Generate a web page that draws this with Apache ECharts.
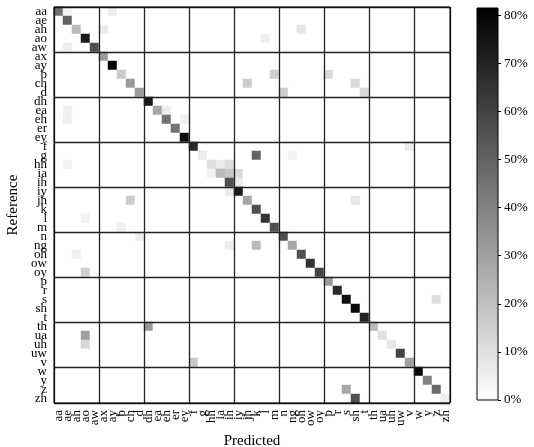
<!DOCTYPE html>
<html>
<head>
<meta charset="utf-8">
<script src="https://cdn.jsdelivr.net/npm/echarts@6/dist/echarts.min.js"></script>
<style>
  html, body { margin: 0; padding: 0; background: #fff; }
  #chart { width: 534px; height: 447px; }
</style>
</head>
<body>
<div id="chart"></div>
<script>
// phoneme labels, same order on both axes
var phones = ['aa','ae','ah','ao','aw','ax','ay','b','ch','d','dh','ea','eh','er','ey',
  'f','g','hh','ia','ih','iy','jh','k','l','m','n','ng','oh','ow','oy',
  'p','r','s','sh','t','th','ua','uh','uw','v','w','y','z','zh'];

// diagonal (correct) rates in %, one per phone
var diagonal = [45, 50, 22, 73, 56, 32, 81, 17, 32, 32, 74, 28, 45, 45, 77,
  68, 6, 10, 22, 56, 73, 28, 56, 65, 56, 56, 28, 56, 65, 60,
  32, 68, 76, 78, 70, 22, 10, 7, 60, 30, 80, 40, 48, 5];

// off-diagonal confusions: [reference index, predicted index, %]
var confusions = [
  [0, 1, 4], [0, 6, 6], [2, 5, 6], [4, 1, 5], [11, 1, 5], [11, 12, 6],
  [12, 1, 5], [12, 14, 5], [7, 24, 16], [7, 30, 12], [8, 21, 16], [8, 33, 12],
  [9, 25, 16], [9, 34, 12], [16, 22, 50], [16, 26, 4], [17, 1, 4], [17, 18, 6],
  [17, 19, 11], [18, 17, 4], [18, 19, 18], [18, 20, 12], [19, 20, 6], [20, 19, 6],
  [21, 8, 16], [21, 33, 8], [26, 22, 22], [26, 19, 6], [29, 3, 15], [35, 10, 32],
  [36, 3, 30], [37, 3, 12], [39, 15, 18], [42, 32, 28], [43, 33, 56], [32, 42, 10],
  [2, 27, 8], [15, 39, 6], [3, 23, 5], [23, 3, 4], [24, 7, 5], [25, 9, 5], [27, 2, 5]
];

var colorMax = 81.5;

var cells = [];
for (var r = 0; r < phones.length; r++) {
  for (var c = 0; c < phones.length; c++) {
    cells.push([c, r, r === c ? diagonal[r] : 0]);
  }
}
confusions.forEach(function (d) {
  cells[d[0] * phones.length + d[1]][2] = d[2];
});

var serif = 'Liberation Serif';
var everyFifth = function (i) { return i % 5 === 0; };

var chart = echarts.init(document.getElementById('chart'));
chart.setOption({
  animation: false,
  textStyle: { fontFamily: serif, color: '#000' },
  grid: [
    { left: 54, top: 7, width: 396, height: 396, outerBoundsMode: 'none',
      show: true, borderColor: '#000', borderWidth: 1, z: 10 },
    { left: 477, top: 8, width: 21, height: 392, outerBoundsMode: 'none',
      show: true, borderColor: '#000', borderWidth: 1, z: 10 }
  ],
  xAxis: [{
    gridIndex: 0,
    type: 'category',
    data: phones,
    z: 5,
    name: 'Predicted',
    nameLocation: 'middle',
    nameGap: 29,
    nameTextStyle: { fontSize: 15, fontFamily: serif, color: '#000' },
    axisLine: { show: false },
    axisTick: { alignWithLabel: true, length: 5, lineStyle: { color: '#000' } },
    axisLabel: { rotate: 90, interval: 0, fontSize: 13, margin: 7, color: '#000', fontFamily: serif },
    splitLine: { show: true, interval: everyFifth, lineStyle: { color: '#222', width: 1.3 } }
  }, {
    gridIndex: 1,
    type: 'category',
    data: [''],
    axisLine: { show: false },
    axisTick: { show: false },
    axisLabel: { show: false }
  }],
  yAxis: [{
    gridIndex: 0,
    type: 'category',
    data: phones,
    inverse: true,
    z: 5,
    name: 'Reference',
    nameLocation: 'middle',
    nameGap: 31,
    nameTextStyle: { fontSize: 15, fontFamily: serif, color: '#000' },
    axisLine: { show: false },
    axisTick: { alignWithLabel: true, length: 5, lineStyle: { color: '#000' } },
    axisLabel: { interval: 0, fontSize: 13, margin: 7, color: '#000', fontFamily: serif },
    splitLine: { show: true, interval: everyFifth, lineStyle: { color: '#222', width: 1.3 } }
  }, {
    gridIndex: 1,
    type: 'value',
    position: 'right',
    min: 0,
    max: colorMax,
    interval: 10,
    axisLine: { show: false },
    axisTick: { show: true, inside: false, length: 3, lineStyle: { color: '#000' } },
    axisLabel: { fontSize: 13, margin: 6, color: '#000', fontFamily: serif, formatter: '{value}%',
      showMaxLabel: false },
    splitLine: { show: false }
  }],
  visualMap: {
    show: false,
    seriesIndex: 0,
    min: 0,
    max: colorMax,
    inRange: { color: ['#ffffff', '#000000'] }
  },
  series: [{
    type: 'heatmap',
    xAxisIndex: 0,
    yAxisIndex: 0,
    data: cells,
    itemStyle: { borderWidth: 0 }
  }, {
    type: 'bar',
    xAxisIndex: 1,
    yAxisIndex: 1,
    barWidth: '100%',
    data: [colorMax],
    itemStyle: {
      color: new echarts.graphic.LinearGradient(0, 0, 0, 1, [
        { offset: 0, color: '#000000' },
        { offset: 1, color: '#ffffff' }
      ])
    }
  }]
});
</script>
</body>
</html>
